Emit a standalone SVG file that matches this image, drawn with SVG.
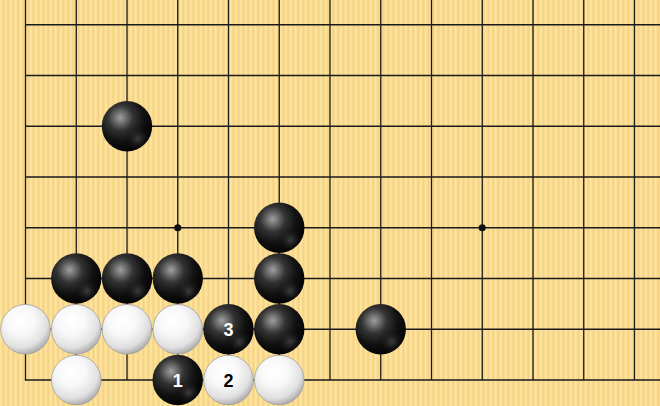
<svg xmlns="http://www.w3.org/2000/svg" width="660" height="406" viewBox="0 0 660 406">
<defs>
<pattern id="wood" width="5" height="10" patternUnits="userSpaceOnUse">
<rect width="5" height="10" fill="#f9da8c"/>
<rect x="0" width="1.5" height="10" fill="#fde5a3"/>
<rect x="3" width="1" height="10" fill="#f6d384"/>
</pattern>
<radialGradient id="gb" cx="0.37" cy="0.33" r="0.72">
<stop offset="0" stop-color="#a0a0a0"/>
<stop offset="0.12" stop-color="#7a7a7a"/>
<stop offset="0.35" stop-color="#333"/>
<stop offset="0.65" stop-color="#111"/>
<stop offset="1" stop-color="#000"/>
</radialGradient>
<radialGradient id="gbr" cx="0.72" cy="0.75" r="0.28">
<stop offset="0" stop-color="#666" stop-opacity="0.55"/>
<stop offset="1" stop-color="#000" stop-opacity="0"/>
</radialGradient>
<radialGradient id="gw" cx="0.4" cy="0.33" r="0.72">
<stop offset="0" stop-color="#ffffff"/>
<stop offset="0.4" stop-color="#f8f8f8"/>
<stop offset="0.75" stop-color="#e0e0e0"/>
<stop offset="1" stop-color="#a0a0a0"/>
</radialGradient>
<style>
.ln{stroke:#1a1a1a;stroke-width:1.3;fill:none}
.b{fill:url(#gb)}
.br{fill:url(#gbr)}
.w{fill:url(#gw);stroke:#a0a0a0;stroke-width:0.8}
.hs{fill:#111}
.t{font-family:"Liberation Sans",Arial,sans-serif;font-weight:bold;font-size:18px;text-anchor:middle;dominant-baseline:central}
</style>
</defs>
<rect width="660" height="406" fill="url(#wood)"/>
<g id="grid" class="ln">
<path d="M25.5 0V380M76.25 0V380M127 0V380M177.75 0V380M228.5 0V380M279.25 0V380M330 0V380M380.75 0V380M431.5 0V380M482.25 0V380M533 0V380M583.75 0V380M634.5 0V380"/>
<path d="M25.5 24.75H660M25.5 75.5H660M25.5 126.25H660M25.5 177H660M25.5 227.75H660M25.5 278.5H660M25.5 329.25H660M24.85 380H660"/>
</g>
<g id="hoshi">
<circle class="hs" cx="177.75" cy="227.75" r="3.6"/>
<circle class="hs" cx="482.25" cy="227.75" r="3.6"/>
</g>
<g id="b1"><circle class="b" cx="127" cy="126.25" r="25.2"/><circle class="br" cx="127" cy="126.25" r="25.2"/></g>
<g id="b2"><circle class="b" cx="279.25" cy="227.75" r="25.2"/><circle class="br" cx="279.25" cy="227.75" r="25.2"/></g>
<g id="b3"><circle class="b" cx="76.25" cy="278.5" r="25.2"/><circle class="br" cx="76.25" cy="278.5" r="25.2"/></g>
<g id="b4"><circle class="b" cx="127" cy="278.5" r="25.2"/><circle class="br" cx="127" cy="278.5" r="25.2"/></g>
<g id="b5"><circle class="b" cx="177.75" cy="278.5" r="25.2"/><circle class="br" cx="177.75" cy="278.5" r="25.2"/></g>
<g id="b6"><circle class="b" cx="279.25" cy="278.5" r="25.2"/><circle class="br" cx="279.25" cy="278.5" r="25.2"/></g>
<g id="b7"><circle class="b" cx="228.5" cy="329.25" r="25.2"/><circle class="br" cx="228.5" cy="329.25" r="25.2"/><text class="t" x="228.5" y="330" fill="#fff">3</text></g>
<g id="b8"><circle class="b" cx="279.25" cy="329.25" r="25.2"/><circle class="br" cx="279.25" cy="329.25" r="25.2"/></g>
<g id="b9"><circle class="b" cx="380.75" cy="329.25" r="25.2"/><circle class="br" cx="380.75" cy="329.25" r="25.2"/></g>
<g id="b10"><circle class="b" cx="177.75" cy="380" r="25.2"/><circle class="br" cx="177.75" cy="380" r="25.2"/><text class="t" x="177.75" y="380.75" fill="#fff">1</text></g>
<g id="w1"><circle class="w" cx="25.5" cy="329.25" r="24.8"/></g>
<g id="w2"><circle class="w" cx="76.25" cy="329.25" r="24.8"/></g>
<g id="w3"><circle class="w" cx="127" cy="329.25" r="24.8"/></g>
<g id="w4"><circle class="w" cx="177.75" cy="329.25" r="24.8"/></g>
<g id="w5"><circle class="w" cx="76.25" cy="380" r="24.8"/></g>
<g id="w6"><circle class="w" cx="228.5" cy="380" r="24.8"/><text class="t" x="228.5" y="380.75" fill="#000">2</text></g>
<g id="w7"><circle class="w" cx="279.25" cy="380" r="24.8"/></g>
</svg>
